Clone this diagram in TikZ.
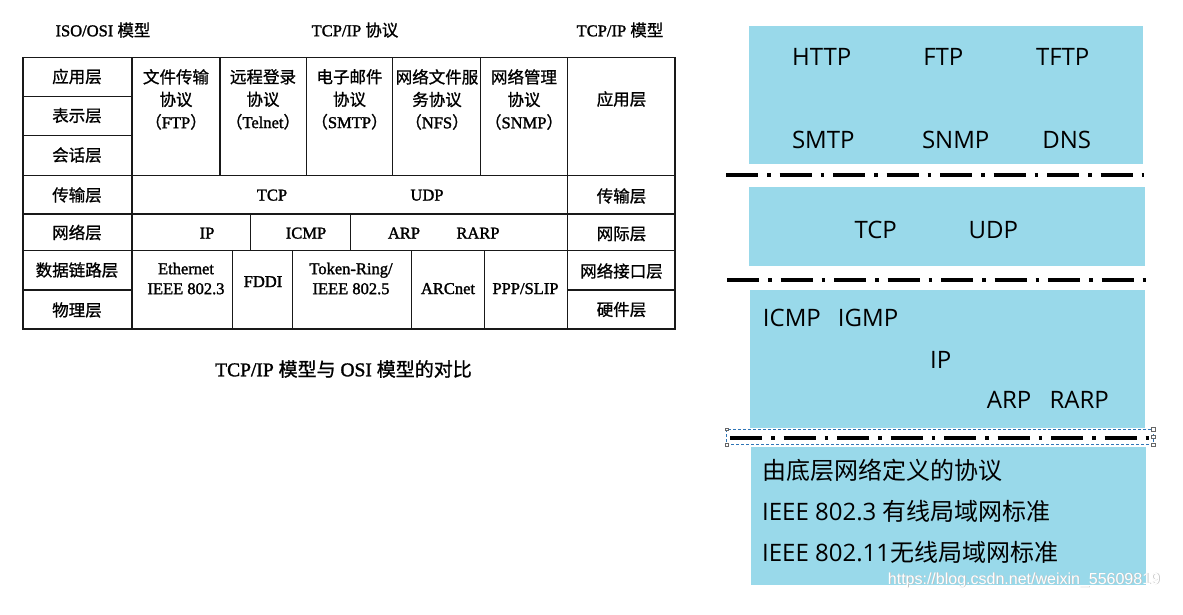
\documentclass[tikz,border=0pt]{standalone}
\usepackage{fontspec}
\setmainfont{Liberation Serif}
\newfontfamily\lserif{Liberation Serif}[FakeBold=1.6]
\newfontfamily\cjkleft{Noto Sans CJK SC}[FakeBold=1.0]
\newfontfamily\cjkfont{Noto Sans CJK SC}
\newfontfamily\rsans{Open Sans}
\newfontfamily\wmfont{Liberation Sans}
\newcommand\Czh[1]{{\cjkleft\fontsize{16.5}{22.5}\selectfont #1}}
\newcommand\Czhbig[1]{{\cjkleft\fontsize{19}{22.5}\selectfont #1}}
\newcommand\Rzh[1]{{\cjkfont\fontsize{24}{30}\selectfont #1}}
\definecolor{boxblue}{RGB}{153,217,234}
\definecolor{gridc}{RGB}{25,25,25}
\definecolor{selblue}{RGB}{46,117,182}
\begin{document}
\begin{tikzpicture}[x=1pt,y=-1pt,
  gridline/.style={draw=gridc,line width=1.3pt},
  lbl/.style={inner sep=0pt,font=\lserif\fontsize{16.5}{22.5}\selectfont,text=black,align=center},
  lbltwo/.style={lbl,font=\lserif\fontsize{16.5}{20}\selectfont,anchor=north},
  bluebox/.style={fill=boxblue,draw=none,inner sep=0pt,anchor=north west},
  rtxt/.style={inner sep=0pt,font=\rsans\fontsize{24}{30}\selectfont,text=black,anchor=base},
  rtxtw/.style={rtxt,anchor=base west},
  dashdot/.style={draw=black,line width=4pt,dash pattern=on 32pt off 9pt on 3.5pt off 9pt},
  wm/.style={inner sep=0pt,font=\wmfont\fontsize{16}{18}\selectfont},
  handle/.style={draw=black!60,fill=white,line width=0.6pt,minimum size=3.5pt,inner sep=0pt},
]
\useasboundingbox (0,0) rectangle (1183,614);
\fill[white] (0,0) rectangle (1183,614);

% ---------------- left table ----------------
\coordinate (tl) at (22.7,57.3);
\coordinate (br) at (675,329);
\draw[gridline,line width=1.6pt] (tl) rectangle (br);
% main verticals
\draw[gridline] (132,57.3) -- (132,329);
\draw[gridline] (567.7,57.3) -- (567.7,329);
% left column rows
\draw[gridline] (22.7,96.7) -- (132,96.7);
\draw[gridline] (22.7,135.7) -- (132,135.7);
\draw[gridline] (22.7,290) -- (132,290);
\draw[gridline] (567.7,290) -- (675,290);
% full rows
\draw[gridline] (22.7,175.5) -- (675,175.5);
\draw[gridline] (22.7,214) -- (675,214);
\draw[gridline] (22.7,250.3) -- (675,250.3);
% application columns
\foreach \xx in {220,306.7,392.7,480.7} \draw[gridline] (\xx,57.3) -- (\xx,175.5);
% network row
\foreach \xx in {250.7,350.7} \draw[gridline] (\xx,214) -- (\xx,250.3);
% link row
\foreach \xx in {232.7,292.3,411.7,484.3} \draw[gridline] (\xx,250.3) -- (\xx,329);

% titles
\node[lbl] (t1) at (103,30) {ISO/OSI \Czh{模型}};
\node[lbl] (t2) at (355,30) {TCP/IP \Czh{协议}};
\node[lbl] (t3) at (620,30) {TCP/IP \Czh{模型}};
\node[lbl,font=\lserif\fontsize{19.5}{22.5}\selectfont] (cap) at (343.5,369) {TCP/IP \Czhbig{模型与} OSI \Czhbig{模型的对比}};

% OSI column
\node[lbl] (o1) at (77,76.5) {\Czh{应用层}};
\node[lbl] (o2) at (77,115.5) {\Czh{表示层}};
\node[lbl] (o3) at (77,155) {\Czh{会话层}};
\node[lbl] (o4) at (77,195) {\Czh{传输层}};
\node[lbl] (o5) at (77,232.5) {\Czh{网络层}};
\node[lbl] (o6) at (77,270) {\Czh{数据链路层}};
\node[lbl] (o7) at (77,310) {\Czh{物理层}};

% TCP/IP model column
\node[lbl] (m1) at (621.5,99) {\Czh{应用层}};
\node[lbl] (m2) at (621.5,196) {\Czh{传输层}};
\node[lbl] (m3) at (621.5,234) {\Czh{网际层}};
\node[lbl] (m4) at (621.5,271) {\Czh{网络接口层}};
\node[lbl] (m5) at (621.5,309.5) {\Czh{硬件层}};

% application protocols
\node[lbl,anchor=north] (a1) at (176,69) {\Czh{文件传输}\\\Czh{协议}\\\Czh{（}FTP\Czh{）}};
\node[lbl,anchor=north] (a2) at (263,69) {\Czh{远程登录}\\\Czh{协议}\\\Czh{（}Telnet\Czh{）}};
\node[lbl,anchor=north] (a3) at (349.5,69) {\Czh{电子邮件}\\\Czh{协议}\\\Czh{（}SMTP\Czh{）}};
\node[lbl,anchor=north] (a4) at (437,69) {\Czh{网络文件服}\\\Czh{务协议}\\\Czh{（}NFS\Czh{）}};
\node[lbl,anchor=north] (a5) at (524,69) {\Czh{网络管理}\\\Czh{协议}\\\Czh{（}SNMP\Czh{）}};

% transport
\node[lbl,anchor=base] (tcp) at (272,200.5) {TCP};
\node[lbl,anchor=base] (udp) at (427,200.5) {UDP};
% network
\node[lbl,anchor=base] (ip) at (207,238.5) {IP};
\node[lbl,anchor=base] (icmp) at (306,238.5) {ICMP};
\node[lbl,anchor=base] (arp) at (404,238.5) {ARP};
\node[lbl,anchor=base] (rarp) at (478,238.5) {RARP};
% link
\node[lbltwo] (eth) at (186,262.5) {Ethernet\\IEEE 802.3};
\node[lbl,anchor=base] (fddi) at (263,287) {FDDI};
\node[lbltwo] (tok) at (351,262.5) {Token-Ring/\\IEEE 802.5};
\node[lbl,anchor=base] (arc) at (448,294) {ARCnet};
\node[lbl,anchor=base] (ppp) at (525.5,294) {PPP/SLIP};

% ---------------- right side ----------------
\node[bluebox,minimum width=394.4pt,minimum height=138pt] (b1) at (748.3,26) {};
\node[bluebox,minimum width=396.7pt,minimum height=79pt] (b2) at (748.3,186.7) {};
\node[bluebox,minimum width=395pt,minimum height=137.7pt] (b3) at (750,290) {};
\node[bluebox,minimum width=394.7pt,minimum height=137.6pt] (b4) at (751,446.7) {};

\coordinate (d1a) at (726,175); \coordinate (d1b) at (1143.5,175);
\coordinate (d2a) at (727,280); \coordinate (d2b) at (1146,280);
\coordinate (d3a) at (730,438.3); \coordinate (d3b) at (1150,438.3);
\draw[dashdot] (d1a) -- (d1b);
\draw[dashdot] (d2a) -- (d2b);
\draw[dashdot] (d3a) -- (d3b);

% selection frame round the third line
\coordinate (s1) at (726.7,429.3); \coordinate (s2) at (1153.3,444.7);
\draw[selblue,line width=0.7pt,dash pattern=on 3pt off 2pt] (s1) rectangle (s2);
\node[handle] (h1) at (1153.3,429.3) {};
\node[handle] (h2) at (1153.3,437) {};
\node[handle] (h3) at (1153.3,444.7) {};
\node[handle,minimum size=2.5pt] (h4) at (726.7,429.3) {};
\node[handle,minimum size=2.5pt] (h5) at (726.7,444.7) {};

% box 1
\node[rtxt] (http) at (821.7,65.7) {HTTP};
\node[rtxt] (ftp) at (943.3,65.7) {FTP};
\node[rtxt] (tftp) at (1062.7,65.7) {TFTP};
\node[rtxt] (smtp) at (823.3,148) {SMTP};
\node[rtxt] (snmp) at (955.7,148) {SNMP};
\node[rtxt] (dns) at (1066.7,148) {DNS};
% box 2
\node[rtxt] (rtcp) at (875.7,238.3) {TCP};
\node[rtxt] (rudp) at (993.3,238.3) {UDP};
% box 3
\node[rtxtw] (ricmp) at (762.7,326.7) {ICMP};
\node[rtxtw] (rigmp) at (837.7,326.7) {IGMP};
\node[rtxt] (rip) at (940.7,368.3) {IP};
\node[rtxtw] (rarp2) at (986.7,408.3) {ARP};
\node[rtxtw] (rrarp) at (1049.3,408.3) {RARP};
% box 4
\node[rtxtw] (l1) at (762,479) {\Rzh{由底层网络定义的协议}};
\node[rtxtw] (l2) at (762,520) {IEEE 802.3 \Rzh{有线局域网标准}};
\node[rtxtw] (l3) at (762,561) {IEEE 802.11\Rzh{无线局域网标准}};

% watermark
\node[wm,text=black!25] (wma) at (1024.8,580.8) {https://blog.csdn.net/weixin\_55609819};
\node[wm,text=white] (wmb) at (1024,580) {https://blog.csdn.net/weixin\_55609819};
\end{tikzpicture}
\end{document}
